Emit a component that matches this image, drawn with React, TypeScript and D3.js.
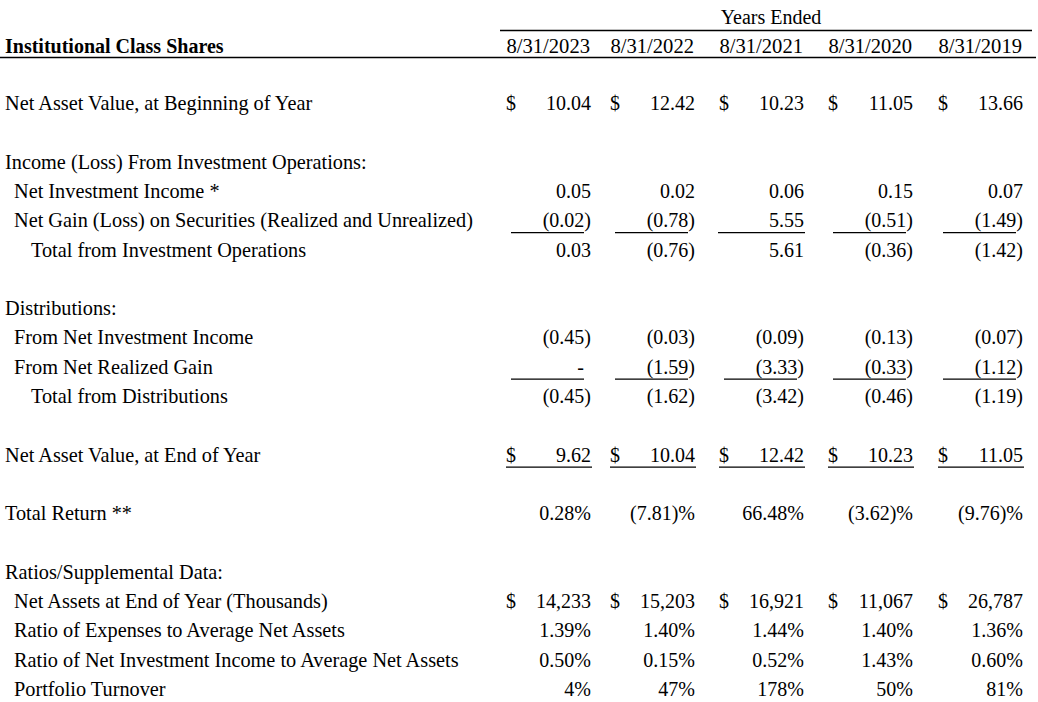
import * as d3 from "d3";

const years = ["8/31/2023", "8/31/2022", "8/31/2021", "8/31/2020", "8/31/2019"];

const navBegin = [10.04, 12.42, 10.23, 11.05, 13.66];
const netInvIncome = [0.05, 0.02, 0.06, 0.15, 0.07];
const netGain = [-0.02, -0.78, 5.55, -0.51, -1.49];
const totalInvOps = [0.03, -0.76, 5.61, -0.36, -1.42];
const distIncome = [-0.45, -0.03, -0.09, -0.13, -0.07];
const distGain = [0, -1.59, -3.33, -0.33, -1.12];
const totalDist = [-0.45, -1.62, -3.42, -0.46, -1.19];
const navEnd = [9.62, 10.04, 12.42, 10.23, 11.05];
const totalReturn = [0.28, -7.81, 66.48, -3.62, -9.76];
const netAssets = [14233, 15203, 16921, 11067, 26787];
const expenseRatio = [1.39, 1.4, 1.44, 1.4, 1.36];
const incomeRatio = [0.5, 0.15, 0.52, 1.43, 0.6];
const turnover = [4, 47, 178, 50, 81];

const width = 1038;
const height = 702;
const font = "'Liberation Serif', 'Times New Roman', serif";
const fontSize = 20;

const f2 = d3.format(".2f");
const money = (v: number) => (v === 0 ? "-" : v < 0 ? `(${f2(-v)})` : f2(v));
const pct = (v: number) => (v < 0 ? `(${f2(-v)})%` : `${f2(v)}%`);
const ratio = (v: number) => `${f2(v)}%`;
const turn = (v: number) => `${v}%`;
const thousands = d3.format(",");

type Row = {
  label: string;
  indent: number;
  slot: number;
  values?: number[];
  fmt?: (v: number) => string;
  dollar?: boolean;
  rule?: "sub" | "total";
};

const rows: Row[] = [
  { label: "Net Asset Value, at Beginning of Year", indent: 0, slot: 0, values: navBegin, fmt: money, dollar: true },
  { label: "Income (Loss) From Investment Operations:", indent: 0, slot: 2 },
  { label: "Net Investment Income *", indent: 1, slot: 3, values: netInvIncome, fmt: money },
  { label: "Net Gain (Loss) on Securities (Realized and Unrealized)", indent: 1, slot: 4, values: netGain, fmt: money, rule: "sub" },
  { label: "Total from Investment Operations", indent: 2, slot: 5, values: totalInvOps, fmt: money },
  { label: "Distributions:", indent: 0, slot: 7 },
  { label: "From Net Investment Income", indent: 1, slot: 8, values: distIncome, fmt: money },
  { label: "From Net Realized Gain", indent: 1, slot: 9, values: distGain, fmt: money, rule: "sub" },
  { label: "Total from Distributions", indent: 2, slot: 10, values: totalDist, fmt: money },
  { label: "Net Asset Value, at End of Year", indent: 0, slot: 12, values: navEnd, fmt: money, dollar: true, rule: "total" },
  { label: "Total Return **", indent: 0, slot: 14, values: totalReturn, fmt: pct },
  { label: "Ratios/Supplemental Data:", indent: 0, slot: 16 },
  { label: "Net Assets at End of Year (Thousands)", indent: 1, slot: 17, values: netAssets, fmt: thousands, dollar: true },
  { label: "Ratio of Expenses to Average Net Assets", indent: 1, slot: 18, values: expenseRatio, fmt: ratio },
  { label: "Ratio of Net Investment Income to Average Net Assets", indent: 1, slot: 19, values: incomeRatio, fmt: ratio },
  { label: "Portfolio Turnover", indent: 1, slot: 20, values: turnover, fmt: turn },
];

// right edge of each year column
const x = d3.scaleOrdinal<string, number>().domain(years).range([591, 695, 804, 913, 1023]);
// row slot -> text baseline
const y = d3.scaleLinear().domain([0, 20]).range([110, 696]);
const indentX = [5, 14, 31];

export default function App() {
  return (
    <svg
      width={width}
      height={height}
      viewBox={`0 0 ${width} ${height}`}
      style={{ position: "absolute", left: 0, top: 0, background: "#fff" }}
      fontFamily={font}
      fontSize={fontSize}
      fill="#000"
    >
      <rect width={width} height={height} fill="#fff" />

      {/* header */}
      <text x={771} y={24} textAnchor="middle">Years Ended</text>
      <line x1={500} x2={1032} y1={30.5} y2={30.5} stroke="#000" strokeWidth={1.3} />
      <text x={5} y={53} fontWeight="bold">Institutional Class Shares</text>
      {years.map((yr) => (
        <text key={yr} x={x(yr) - 1} y={53} textAnchor="end" fontSize={20.6}>{yr}</text>
      ))}
      <line x1={0} x2={1036} y1={57.5} y2={57.5} stroke="#000" strokeWidth={1.3} />

      {rows.map((r) => {
        const by = y(r.slot);
        return (
          <g key={r.label}>
            <text x={indentX[r.indent]} y={by} fontSize={20.3}>{r.label}</text>
            {r.values &&
              r.values.map((v, i) => {
                const right = x(years[i]);
                const s = r.fmt ? r.fmt(v) : String(v);
                return (
                  <g key={i}>
                    {r.dollar && <text x={right - 85} y={by}>$</text>}
                    <text x={s === "-" ? right - 7 : right} y={by} textAnchor="end">{s}</text>
                    {r.rule === "sub" && (
                      <line
                        x1={v > 0 ? right - 86 : right - 80}
                        x2={v > 0 ? right + 1 : right - 7}
                        y1={by + 5.5}
                        y2={by + 5.5}
                        stroke="#000"
                        strokeWidth={1.2}
                      />
                    )}
                    {r.rule === "total" && (
                      <line x1={right - 85} x2={right + 1} y1={by + 5.5} y2={by + 5.5} stroke="#000" strokeWidth={1.2} />
                    )}
                  </g>
                );
              })}
          </g>
        );
      })}
    </svg>
  );
}
